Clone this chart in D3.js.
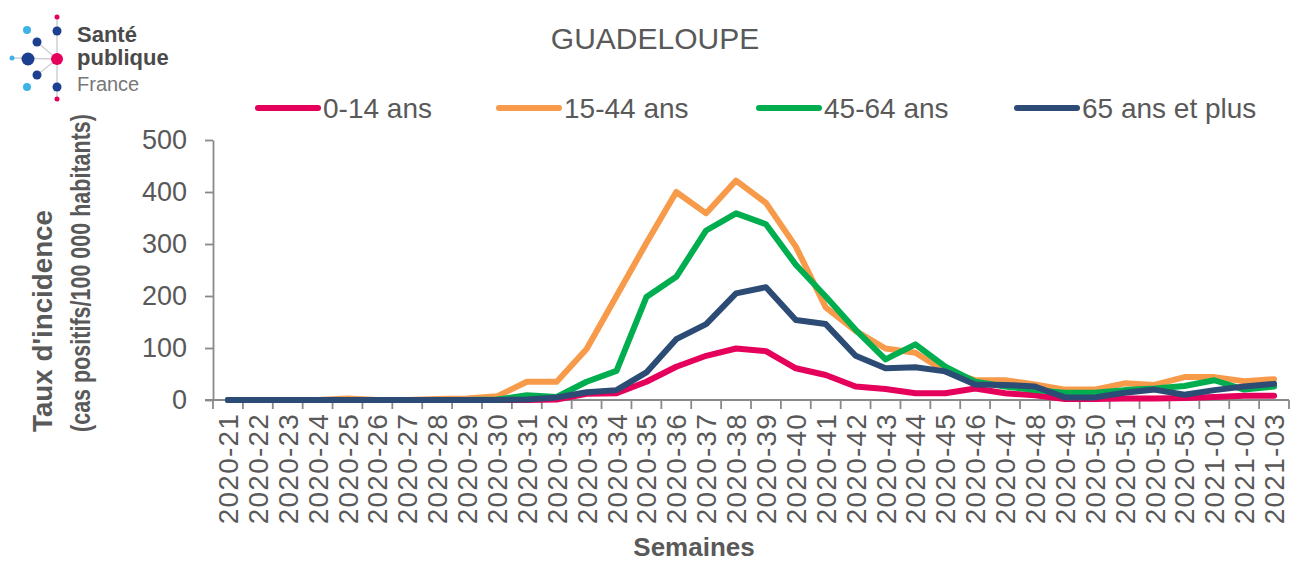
<!DOCTYPE html>
<html>
<head>
<meta charset="utf-8">
<script src="https://cdn.jsdelivr.net/npm/d3@7"></script>
<style>
  body { margin: 0; background: #fff; }
  svg { display: block; font-family: "Liberation Sans", Arial, sans-serif; }
</style>
</head>
<body>
<svg id="chart" width="1291" height="562"></svg>
<script>
// ── Data ──────────────────────────────────────────────
const weeks = [
  '2020-21','2020-22','2020-23','2020-24','2020-25','2020-26','2020-27','2020-28','2020-29','2020-30',
  '2020-31','2020-32','2020-33','2020-34','2020-35','2020-36','2020-37','2020-38','2020-39','2020-40',
  '2020-41','2020-42','2020-43','2020-44','2020-45','2020-46','2020-47','2020-48','2020-49','2020-50',
  '2020-51','2020-52','2020-53','2021-01','2021-02','2021-03'
];
const age0_14  = [0,0,0,0,0,0,0,0,0,0, 0,1,12,13,35,64,85,99,94,61, 48,26,21,13,13,22,13,9,2,2, 3,3,4,6,8,8];
const age15_44 = [0,0,0,0,3,0,0,2,3,7, 35,35,98,200,302,400,359,422,379,295, 178,133,99,91,55,38,38,30,20,20, 32,29,44,44,36,40];
const age45_64 = [0,0,0,0,0,0,0,0,0,1, 9,6,35,56,198,237,326,359,338,260, 199,135,78,107,64,35,26,19,14,14, 19,22,27,38,20,26];
const age65    = [0,0,0,0,0,0,0,0,0,0, 1,5,15,19,53,117,146,205,217,154, 146,85,61,63,55,30,29,26,5,5, 14,20,10,19,26,31];
const yTicks   = [0, 100, 200, 300, 400, 500];

const series = [
  { name: '0-14 ans',       values: age0_14,  color: '#E4005B' },
  { name: '15-44 ans',      values: age15_44, color: '#F79A4A' },
  { name: '45-64 ans',      values: age45_64, color: '#00AE50' },
  { name: '65 ans et plus', values: age65,    color: '#2C4C75' }
];

const TEXT = '#595959';
const AXIS = '#8a8a8a';

const svg = d3.select('#chart');

// ── Scales ────────────────────────────────────────────
const x = d3.scaleBand().domain(weeks).range([213, 1289]).padding(0);
const y = d3.scaleLinear().domain([0, 500]).range([400, 140]);
const cx = w => x(w) + x.bandwidth() / 2;

// ── Y axis ────────────────────────────────────────────
const yAxis = svg.append('g')
  .attr('transform', `translate(${x.range()[0]},0)`)
  .call(d3.axisLeft(y).tickValues(yTicks).tickSize(8).tickPadding(18).tickSizeOuter(0));
yAxis.select('.domain').attr('stroke', AXIS).attr('stroke-width', 1.8);
yAxis.selectAll('.tick line').attr('stroke', AXIS).attr('stroke-width', 1.8);
yAxis.selectAll('.tick text')
  .attr('fill', TEXT).attr('font-size', 27).attr('font-family', '"Liberation Sans", Arial, sans-serif');

// ── X axis ────────────────────────────────────────────
const xg = svg.append('g');
xg.append('line')
  .attr('x1', x.range()[0] - 8).attr('x2', x.range()[1])
  .attr('y1', y(0)).attr('y2', y(0))
  .attr('stroke', AXIS).attr('stroke-width', 1.8);
const bounds = weeks.map(w => x(w)).concat([x.range()[1]]);
xg.selectAll('.xtick')
  .data(bounds)
  .join('line')
  .attr('class', 'xtick')
  .attr('x1', d => d).attr('x2', d => d)
  .attr('y1', y(0)).attr('y2', y(0) + 9)
  .attr('stroke', AXIS).attr('stroke-width', 1.8);
xg.selectAll('.xlabel')
  .data(weeks)
  .join('text')
  .attr('class', 'xlabel')
  .attr('transform', d => `translate(${cx(d)},${y(0) + 13}) rotate(-90)`)
  .attr('text-anchor', 'end')
  .attr('dy', '0.36em')
  .attr('font-size', 28)
  .attr('letter-spacing', 1.2)
  .attr('fill', TEXT)
  .text(d => d);

// ── Lines ─────────────────────────────────────────────
const line = d3.line()
  .x((d, i) => cx(weeks[i]))
  .y(d => y(d));

svg.append('g').selectAll('path')
  .data(series)
  .join('path')
  .attr('fill', 'none')
  .attr('stroke', d => d.color)
  .attr('stroke-width', 6)
  .attr('stroke-linejoin', 'round')
  .attr('stroke-linecap', 'round')
  .attr('d', d => line(d.values));

// ── Titles ────────────────────────────────────────────
svg.append('text')
  .attr('x', 655).attr('y', 49)
  .attr('text-anchor', 'middle')
  .attr('font-size', 30)
  .attr('fill', TEXT)
  .text('GUADELOUPE');

svg.append('text')
  .attr('x', 694).attr('y', 556)
  .attr('text-anchor', 'middle')
  .attr('font-size', 26)
  .attr('font-weight', 'bold')
  .attr('fill', TEXT)
  .text('Semaines');

svg.append('text')
  .attr('transform', 'translate(52,432) rotate(-90)')
  .attr('font-size', 27)
  .attr('font-weight', 'bold')
  .attr('fill', TEXT)
  .attr('textLength', 222)
  .attr('lengthAdjust', 'spacingAndGlyphs')
  .text("Taux d'incidence");

svg.append('text')
  .attr('transform', 'translate(90,432) rotate(-90)')
  .attr('font-size', 27)
  .attr('font-weight', 'bold')
  .attr('fill', TEXT)
  .attr('textLength', 318)
  .attr('lengthAdjust', 'spacingAndGlyphs')
  .text('(cas positifs/100 000 habitants)');

// ── Legend ────────────────────────────────────────────
const legendX = [258, 499, 759, 1017];
const leg = svg.append('g').selectAll('g')
  .data(series)
  .join('g')
  .attr('transform', (d, i) => `translate(${legendX[i]},108)`);
leg.append('line')
  .attr('x1', 0).attr('x2', 60)
  .attr('stroke', d => d.color)
  .attr('stroke-width', 6)
  .attr('stroke-linecap', 'round');
leg.append('text')
  .attr('x', 65)
  .attr('dy', '0.36em')
  .attr('font-size', 28)
  .attr('fill', TEXT)
  .text(d => d.name);

// ── Logo (Santé publique France) ──────────────────────
const logo = svg.append('g');
const hub = [57, 59];
const dots = [
  [57, 17, 2.5, '#E4005B'], [57, 31, 4.5, '#1D3F8F'], [27, 30, 4, '#3EB4E6'],
  [37, 42, 4.5, '#1D3F8F'], [12, 58, 2.5, '#3EB4E6'], [28, 59, 6.5, '#1D3F8F'],
  [37, 75, 4.5, '#1D3F8F'], [27, 87, 4, '#3EB4E6'], [57, 87, 4.5, '#1D3F8F'],
  [57, 99, 2.5, '#E4005B']
];
logo.append('line').attr('x1', 57).attr('x2', 57).attr('y1', 17).attr('y2', 99)
  .attr('stroke', '#cfcfd6').attr('stroke-width', 1.5);
logo.selectAll('.spoke')
  .data([[12, 58], [37, 42], [37, 75]])
  .join('line')
  .attr('x1', hub[0]).attr('y1', hub[1])
  .attr('x2', d => d[0]).attr('y2', d => d[1])
  .attr('stroke', '#cfcfd6').attr('stroke-width', 1.5);
logo.selectAll('circle')
  .data(dots)
  .join('circle')
  .attr('cx', d => d[0]).attr('cy', d => d[1]).attr('r', d => d[2])
  .attr('fill', d => d[3]);
logo.append('circle').attr('cx', hub[0]).attr('cy', hub[1]).attr('r', 6).attr('fill', '#E4005B');
logo.append('text').attr('x', 77).attr('y', 42).attr('font-size', 22).attr('font-weight', 'bold')
  .attr('fill', '#4a4a4a').text('Santé');
logo.append('text').attr('x', 77).attr('y', 65).attr('font-size', 22).attr('font-weight', 'bold')
  .attr('fill', '#4a4a4a').text('publique');
logo.append('text').attr('x', 77).attr('y', 91).attr('font-size', 20)
  .attr('fill', '#777').text('France');
</script>
</body>
</html>
